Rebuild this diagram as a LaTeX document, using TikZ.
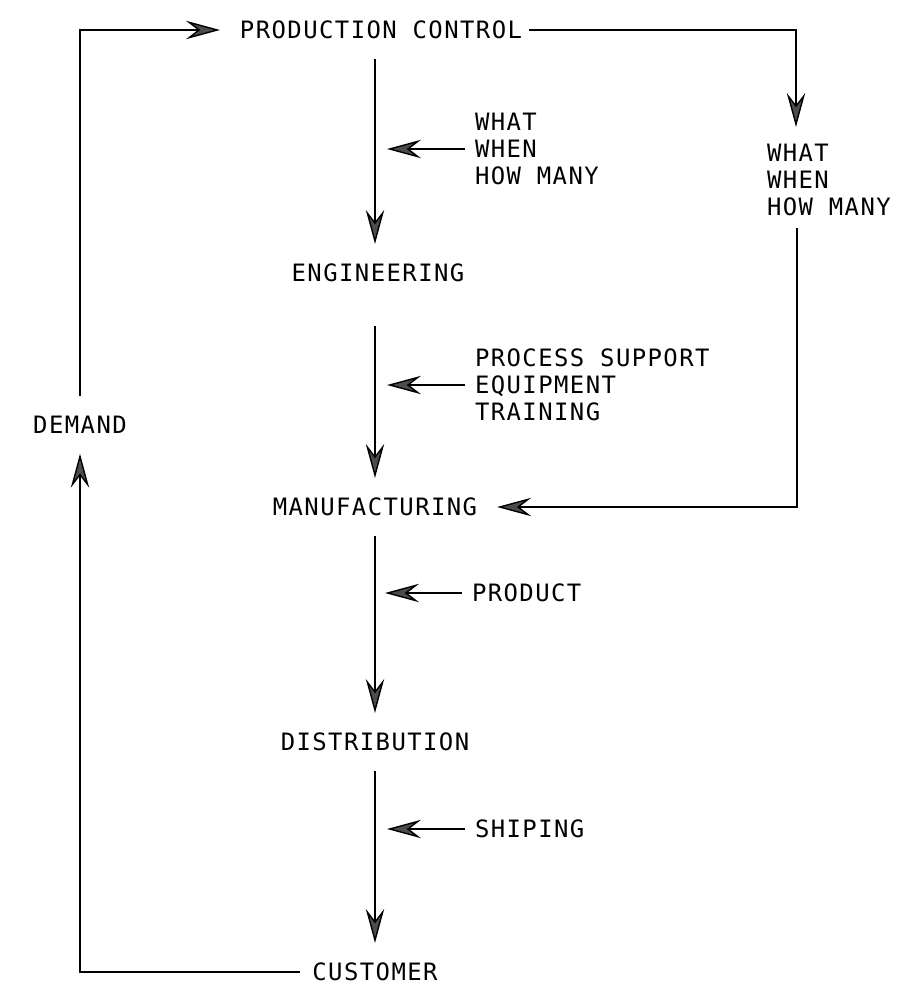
\documentclass[tikz,border=0pt]{standalone}
\usepackage{fontspec}
\usetikzlibrary{arrows.meta}
\newfontfamily\plotfont[LetterSpace=6]{DejaVu Sans Mono}
\tikzset{
  flow/.style={-{Stealth[length=8.5mm,width=4.6mm,inset=3mm,fill=black!70]}, line width=1pt},
  stage/.style={inner sep=0pt, outer sep=5mm, font=\plotfont\fontsize{17}{19}\selectfont},
  note/.style={stage, align=left, outer sep=2.5mm},
}

\begin{document}
\begin{tikzpicture}[x=0.025cm, y=-0.025cm]
\useasboundingbox (0,0) rectangle (911,987);

\node[stage] (pc) at (381,30) {PRODUCTION CONTROL};
\node[stage] (eng) at (378,273) {ENGINEERING};
\node[stage] (mfg) at (375,507) {MANUFACTURING};
\node[stage] (dist) at (375,742) {DISTRIBUTION};
\node[stage] (cust) at (375,972) {CUSTOMER};
\node[stage] (dem) at (80,425) {DEMAND};

\node[note, anchor=west] (ask1) at (465,149) {WHAT\\WHEN\\HOW MANY};
\node[note, anchor=west] (ask2) at (757,180) {WHAT\\WHEN\\HOW MANY};
\node[note, anchor=west] (supp) at (465,385) {PROCESS SUPPORT\\EQUIPMENT\\TRAINING};
\node[note, anchor=west] (prod) at (462,593) {PRODUCT};
\node[note, anchor=west] (ship) at (465,829) {SHIPING};

\coordinate (drop) at (796,127);
\coordinate (rise) at (797,228);

% main line
\draw[flow] (pc.south -| mfg.north) -- (mfg.north |- eng.north);
\draw[flow, shorten <=6mm] (eng.south -| mfg.north) -- (mfg);
\draw[flow] (mfg) -- (dist);
\draw[flow] (dist) -- (cust);

% inputs
\draw[flow, shorten >=3mm] (ask1.west) -- (ask1.west -| mfg);
\draw[flow, shorten >=3mm] (supp.west) -- (supp.west -| mfg);
\draw[flow, shorten >=2.5mm] (prod.west) -- (prod.west -| dist);
\draw[flow, shorten >=3mm] (ship.west) -- (ship.west -| cust);

% loops
\draw[flow, shorten <=-3.3mm] (pc.east) -| (drop);
\draw[flow] (rise) |- (mfg.east);
\draw[flow, shorten <=-2mm] (cust.west) -| (dem.south);
\draw[flow] (dem.north) |- (pc.west);
\end{tikzpicture}
\end{document}
